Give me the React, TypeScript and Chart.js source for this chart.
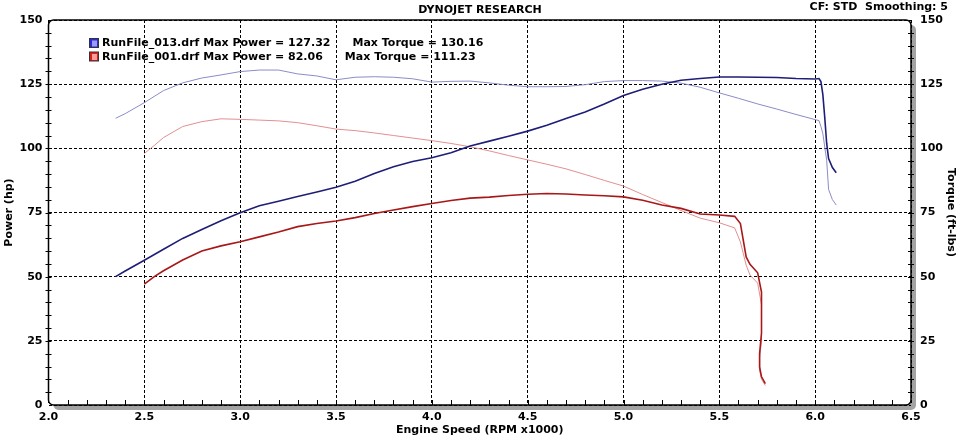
import { useEffect, useRef } from 'react';
import Chart from 'chart.js/auto';

const FONT = '"DejaVu Sans", Verdana, sans-serif';

// run 013 (blue)
const blueRpm = [2.35, 2.4, 2.5, 2.6, 2.7, 2.8, 2.9, 3.0, 3.1, 3.2, 3.3, 3.4, 3.5, 3.6, 3.7, 3.8, 3.9, 4.0, 4.1, 4.2, 4.3, 4.4, 4.5, 4.6, 4.7, 4.8, 4.9, 5.0, 5.1, 5.2, 5.3, 5.4, 5.5, 5.6, 5.7, 5.8, 5.9, 6.0, 6.02, 6.03, 6.04, 6.05, 6.06, 6.07, 6.09, 6.11];
const bluePower = [50.0, 52.2, 56.4, 60.7, 64.9, 68.4, 71.8, 74.9, 77.6, 79.4, 81.2, 83.0, 84.8, 87.2, 90.2, 92.8, 94.9, 96.3, 98.3, 100.9, 102.8, 104.7, 106.7, 109.0, 111.6, 114.2, 117.3, 120.6, 123.0, 125.0, 126.5, 127.2, 127.8, 127.8, 127.7, 127.6, 127.2, 127.0, 127.2, 126.0, 121.0, 112.0, 102.0, 96.0, 92.5, 90.5];
const blueTorque = [111.7, 113.5, 117.8, 122.5, 125.5, 127.4, 128.6, 129.9, 130.5, 130.5, 129.0, 128.2, 126.7, 127.7, 127.9, 127.7, 127.1, 125.8, 126.1, 126.2, 125.5, 124.6, 124.0, 124.0, 124.1, 124.8, 126.0, 126.4, 126.4, 126.2, 125.4, 123.8, 121.6, 119.5, 117.3, 115.3, 113.2, 111.2, 110.8, 108.5, 105.8, 100.5, 95.4, 84.0, 80.0, 77.9];

// run 001 (red)
const redRpm = [2.5, 2.55, 2.6, 2.7, 2.8, 2.9, 3.0, 3.1, 3.2, 3.3, 3.4, 3.5, 3.6, 3.7, 3.8, 3.9, 4.0, 4.1, 4.2, 4.3, 4.4, 4.5, 4.6, 4.7, 4.8, 4.9, 5.0, 5.1, 5.2, 5.3, 5.4, 5.5, 5.58, 5.61, 5.64, 5.66, 5.7, 5.72, 5.72, 5.72, 5.71, 5.71, 5.72, 5.74];
const redPower = [47.1, 49.9, 52.3, 56.5, 60.0, 62.0, 63.6, 65.5, 67.4, 69.5, 70.7, 71.7, 73.0, 74.6, 76.0, 77.3, 78.5, 79.7, 80.6, 81.0, 81.6, 82.1, 82.4, 82.2, 81.8, 81.5, 81.1, 79.8, 77.9, 76.6, 74.4, 74.0, 73.5, 70.7, 57.7, 54.8, 51.5, 44.0, 36.0, 28.0, 20.0, 14.8, 11.0, 8.3];
const redTorque = [98.0, 101.0, 104.2, 108.5, 110.4, 111.5, 111.3, 111.0, 110.7, 110.0, 108.8, 107.5, 106.9, 106.0, 105.0, 104.0, 103.0, 101.9, 100.6, 99.0, 97.2, 95.5, 93.8, 92.0, 89.8, 87.5, 85.3, 82.0, 78.9, 75.8, 72.8, 71.0, 69.0, 63.5, 54.5, 50.6, 47.5, 39.0, 32.0, 25.0, 18.0, 13.5, 10.0, 7.6];

const rpmTicks = [2.0, 2.5, 3.0, 3.5, 4.0, 4.5, 5.0, 5.5, 6.0, 6.5];
const valueTicks = [0, 25, 50, 75, 100, 125, 150];

const runNames = ['RunFile_013.drf', 'RunFile_001.drf'];
const maxPower = ['127.32', '82.06'];
const maxTorque = ['130.16', '111.23'];
const runColors = [['#2a2ad8', '#9a9aff'], ['#d82020', '#ff9a9a']];

function toPoints(xs: number[], ys: number[]) {
    return xs.map((x, i) => ({ x, y: ys[i] }));
}

const dynoPlugin = {
    id: 'dynoFrame',
    beforeDraw(chart: any) {
        const { ctx, chartArea: a } = chart;
        const w = a.right - a.left;
        const h = a.bottom - a.top;
        ctx.save();
        ctx.fillStyle = '#a3a3a3';
        ctx.beginPath();
        ctx.roundRect(a.left + 5, a.top + 5, w, h, 5);
        ctx.fill();
        ctx.fillStyle = '#fff';
        ctx.beginPath();
        ctx.roundRect(a.left, a.top, w, h, 5);
        ctx.fill();
        ctx.restore();
    },
    afterDraw(chart: any) {
        const { ctx, chartArea: a, scales } = chart;
        const w = a.right - a.left;
        const h = a.bottom - a.top;
        ctx.save();
        ctx.strokeStyle = '#000';
        ctx.lineWidth = 1.5;
        ctx.beginPath();
        ctx.roundRect(a.left, a.top, w, h, 5);
        ctx.stroke();

        // minor ticks
        ctx.lineWidth = 1;
        ctx.beginPath();
        const xs = scales.x;
        for (let i = 1; i < (xs.max - xs.min) * 10; i++) {
            const px = Math.round(xs.getPixelForValue(xs.min + i * 0.1)) + 0.5;
            ctx.moveTo(px, a.bottom);
            ctx.lineTo(px, a.bottom - 5);
        }
        const ys = scales.y;
        for (let i = 1; i < (ys.max - ys.min) / 5; i++) {
            const py = Math.round(ys.getPixelForValue(ys.min + i * 5)) + 0.5;
            ctx.moveTo(a.left - 3, py);
            ctx.lineTo(a.left + 3, py);
            ctx.moveTo(a.right - 3, py);
            ctx.lineTo(a.right + 3, py);
        }
        ctx.stroke();

        // header texts
        ctx.fillStyle = '#000';
        ctx.font = `bold 11px ${FONT}`;
        ctx.textBaseline = 'middle';
        ctx.textAlign = 'center';
        ctx.fillText('DYNOJET RESEARCH', 480, 10);
        ctx.textAlign = 'right';
        ctx.fillText('CF: STD  Smoothing: 5', 948, 7.5);

        // legend
        ctx.textAlign = 'left';
        runNames.forEach((name, i) => {
            const cy = 43.5 + i * 13.5;
            const [dark, light] = runColors[i];
            ctx.fillStyle = dark;
            ctx.fillRect(89.5, cy - 5, 9, 9);
            ctx.fillStyle = light;
            ctx.fillRect(92, cy - 3, 5, 6);
            ctx.strokeStyle = '#333';
            ctx.strokeRect(89.5, cy - 5, 9, 9);
            ctx.fillStyle = '#000';
            const first = `${name} Max Power = ${maxPower[i]}`;
            ctx.fillText(first, 102, cy);
            ctx.fillText(`Max Torque = ${maxTorque[i]}`, 102 + ctx.measureText(first).width + 22, cy);
        });
        ctx.restore();
    },
};

export default function App() {
    const canvasRef = useRef<HTMLCanvasElement | null>(null);

    useEffect(() => {
        if (!canvasRef.current) {
            return;
        }
        const tickFont = { family: FONT, size: 11, weight: 'bold' as const };
        const yTicks = (scale: any) => {
            scale.ticks = valueTicks.map((value) => ({ value }));
        };

        const chart = new Chart(canvasRef.current, {
            type: 'line',
            data: {
                datasets: [
                    { label: 'Power 013', data: toPoints(blueRpm, bluePower), borderColor: '#1e1e78', borderWidth: 1.6, yAxisID: 'y' },
                    { label: 'Power 001', data: toPoints(redRpm, redPower), borderColor: '#a81818', borderWidth: 1.6, yAxisID: 'y' },
                    { label: 'Torque 013', data: toPoints(blueRpm, blueTorque), borderColor: '#8c8cc8', borderWidth: 1, yAxisID: 'y2' },
                    { label: 'Torque 001', data: toPoints(redRpm, redTorque), borderColor: '#e39090', borderWidth: 1, yAxisID: 'y2' },
                ],
            },
            options: {
                animation: false,
                responsive: true,
                maintainAspectRatio: false,
                events: [],
                layout: { padding: { top: 20, left: 0, right: 0, bottom: 0 } },
                elements: { point: { radius: 0 }, line: { tension: 0 } },
                plugins: { legend: { display: false }, tooltip: { enabled: false } },
                scales: {
                    x: {
                        type: 'linear',
                        min: 2,
                        max: 6.5,
                        afterBuildTicks: (scale: any) => {
                            scale.ticks = rpmTicks.map((value) => ({ value }));
                        },
                        afterFit: (scale: any) => { scale.height = 32; },
                        ticks: { callback: (v: any) => Number(v).toFixed(1), font: tickFont, color: '#000', padding: 6, maxRotation: 0, autoSkip: false },
                        grid: { color: '#000', lineWidth: 1, drawTicks: false },
                        border: { display: false, dash: [3, 2] },
                        title: { display: true, text: 'Engine Speed (RPM x1000)', font: tickFont, color: '#000', padding: { top: 0, bottom: 0 } },
                    },
                    y: {
                        position: 'left',
                        min: 0,
                        max: 150,
                        afterBuildTicks: yTicks,
                        afterFit: (scale: any) => { scale.width = 48.5; },
                        ticks: { font: tickFont, color: '#000', padding: 6 },
                        grid: { color: '#000', lineWidth: 1, drawTicks: false },
                        border: { display: false, dash: [3, 2] },
                        title: { display: true, text: 'Power (hp)', font: tickFont, color: '#000', padding: { top: 3, bottom: 0 } },
                    },
                    y2: {
                        position: 'right',
                        min: 0,
                        max: 150,
                        afterBuildTicks: yTicks,
                        afterFit: (scale: any) => { scale.width = 48; },
                        ticks: { font: tickFont, color: '#000', padding: 9 },
                        grid: { drawOnChartArea: false, drawTicks: false },
                        border: { display: false },
                        title: { display: true, text: 'Torque (ft-lbs)', font: tickFont, color: '#000', padding: { top: 1.5, bottom: 0 } },
                    },
                },
            },
            plugins: [dynoPlugin],
        });
        return () => chart.destroy();
    }, []);

    return (
        <div style={{ position: 'absolute', left: 0, top: 0, width: '959px', height: '437px', background: '#fff' }}>
            <canvas ref={canvasRef} />
        </div>
    );
}
